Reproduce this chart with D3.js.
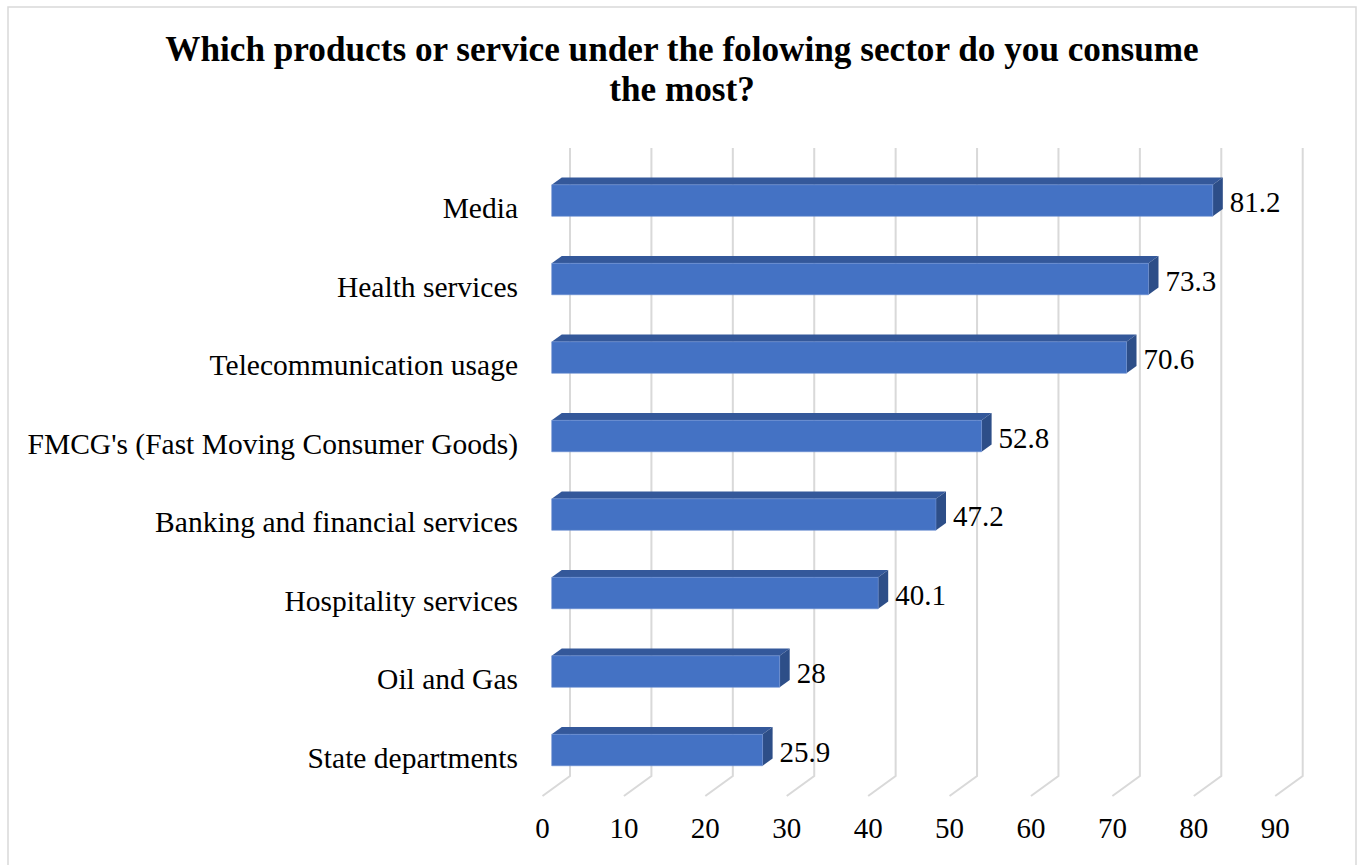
<!DOCTYPE html>
<html>
<head>
<meta charset="utf-8">
<script src="https://cdn.jsdelivr.net/npm/d3@7"></script>
<style>
  html, body { margin: 0; padding: 0; background: #ffffff; }
  svg { display: block; }
</style>
</head>
<body>
<script>
// Survey results: share of respondents by sector
const categories = [
  "Media",
  "Health services",
  "Telecommunication usage",
  "FMCG's (Fast Moving Consumer Goods)",
  "Banking and financial services",
  "Hospitality services",
  "Oil and Gas",
  "State departments"
];
const values = [81.2, 73.3, 70.6, 52.8, 47.2, 40.1, 28, 25.9];
const tickValues = [0, 10, 20, 30, 40, 50, 60, 70, 80, 90];
const titleLines = [
  "Which products or service under the folowing sector do you consume",
  "the most?"
];

const W = 1364, H = 865;
const svg = d3.select("body").append("svg").attr("width", W).attr("height", H);

// Chart frame
svg.append("rect")
  .attr("x", 8).attr("y", 7).attr("width", 1348).attr("height", 880)
  .attr("fill", "#ffffff").attr("stroke", "#d9d9d9").attr("stroke-width", 1.5);

// Title
svg.append("g").selectAll("text").data(titleLines).join("text")
  .attr("x", 682)
  .attr("y", (d, i) => 61 + i * 40)
  .attr("text-anchor", "middle")
  .attr("font-family", "'Liberation Serif', 'Times New Roman', serif")
  .attr("font-weight", "bold")
  .attr("font-size", 35.2)
  .attr("fill", "#000")
  .text(d => d);

// 3D geometry: back wall is the reference plane; depth 0 = back wall, 1 = floor front edge
const wallTop = 148, wallBottom = 776;
const depthDX = -27.5, depthDY = 20;
const x = d3.scaleLinear().domain([0, 90]).range([570, 1302.7]);
const y = d3.scaleBand().domain(categories).range([wallTop, wallBottom])
  .paddingInner(0.6).paddingOuter(0.3);

function P(v, yy, depth) {
  return [x(v) + depth * depthDX, yy + depth * depthDY];
}

const barFront = 0.665, barBack = 0.30;
const font = "'Liberation Serif', 'Times New Roman', serif";

// Gridlines on the back wall, continuing across the floor
const grid = svg.append("g");
grid.selectAll("path").data(tickValues).join("path")
  .attr("d", t => {
    const a = P(t, wallTop, 0), b = P(t, wallBottom, 0), c = P(t, wallBottom, 1);
    return `M${a}L${b}L${c}`;
  })
  .attr("fill", "none")
  .attr("stroke", "#d9d9d9")
  .attr("stroke-width", 2);

// Bars (top face, end face, front face)
const bars = svg.append("g").selectAll("g").data(categories).join("g");
const poly = pts => "M" + pts.map(p => p.join(",")).join("L") + "Z";

bars.append("path")
  .attr("d", (c, i) => {
    const y0 = y(c);
    return poly([P(0, y0, barFront), P(values[i], y0, barFront), P(values[i], y0, barBack), P(0, y0, barBack)]);
  })
  .attr("fill", "#34589a");

bars.append("path")
  .attr("d", (c, i) => {
    const y0 = y(c), y1 = y(c) + y.bandwidth();
    return poly([P(values[i], y0, barFront), P(values[i], y1, barFront), P(values[i], y1, barBack), P(values[i], y0, barBack)]);
  })
  .attr("fill", "#2d4e88");

bars.append("path")
  .attr("d", (c, i) => {
    const y0 = y(c), y1 = y(c) + y.bandwidth();
    return poly([P(0, y0, barFront), P(values[i], y0, barFront), P(values[i], y1, barFront), P(0, y1, barFront)]);
  })
  .attr("fill", "#4472c4")
  .attr("stroke", "#6a8dd0")
  .attr("stroke-width", 0.6);

// Value labels
bars.append("text")
  .attr("x", (c, i) => P(values[i], 0, barBack)[0] + 7)
  .attr("y", c => P(0, y(c) + y.bandwidth(), barFront)[1] - 4)
  .attr("font-family", font)
  .attr("font-size", 29)
  .attr("fill", "#000")
  .text((c, i) => values[i]);

// Category labels
svg.append("g").selectAll("text").data(categories).join("text")
  .attr("x", 518)
  .attr("y", c => P(0, y(c) + y.bandwidth(), barFront)[1] + 2)
  .attr("text-anchor", "end")
  .attr("font-family", font)
  .attr("font-size", 29.5)
  .attr("fill", "#000")
  .text(d => d);

// Value axis tick labels along the floor front edge
svg.append("g").selectAll("text").data(tickValues).join("text")
  .attr("x", t => P(t, wallBottom, 1)[0])
  .attr("y", 838)
  .attr("text-anchor", "middle")
  .attr("font-family", font)
  .attr("font-size", 29)
  .attr("fill", "#000")
  .text(d => d);
</script>
</body>
</html>
